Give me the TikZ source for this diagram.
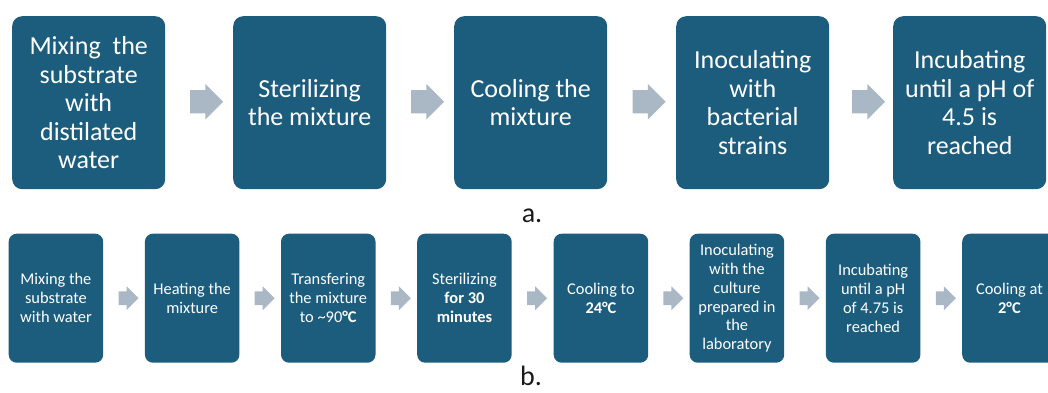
\documentclass[tikz,border=0pt]{standalone}
\usepackage{fontspec}
\setmainfont{Carlito}
\usetikzlibrary{shapes.arrows,calc}
\definecolor{boxc}{HTML}{1C5D7E}
\definecolor{arrc}{HTML}{AAB8C6}
\definecolor{labc}{HTML}{1A1A1A}
\begin{document}
\begin{tikzpicture}[x=1pt,y=-1pt,
  topbox/.style={rectangle, rounded corners=10pt, fill=boxc, text=white,
    minimum width=153pt, minimum height=173pt, align=center, inner sep=0pt,
    anchor=north west, font=\fontsize{26}{28.5}\selectfont},
  botbox/.style={rectangle, rounded corners=8pt, fill=boxc, text=white,
    minimum width=94.5pt, minimum height=129pt, align=center, inner sep=0pt,
    anchor=north west, font=\fontsize{16.4}{18.9}\selectfont},
  toparrow/.style={single arrow, fill=arrc, draw=none, inner xsep=0pt, inner ysep=11.5pt,
    minimum height=33pt, single arrow head extend=6pt},
  botarrow/.style={single arrow, fill=arrc, draw=none, inner xsep=0pt, inner ysep=6.75pt,
    minimum height=20pt, single arrow head extend=5pt},
  lab/.style={text=labc, anchor=base, font=\fontsize{28}{30}\selectfont}
]
\useasboundingbox (0,0) rectangle (1048,392);
\clip (0,0) rectangle (1048,392);
% top row
\node[topbox] (t1) at (12,16) {Mixing\ \ the\\substrate\\with\\distilated\\water};
\node[topbox] (t2) at (233,16) {Sterilizing\\the mixture};
\node[topbox] (t3) at (454,16) {Cooling the\\mixture};
\node[topbox] (t4) at (676,16) {Inoculating\\with\\bacterial\\strains};
\node[topbox] (t5) at (893,16) {Incubating\\until a pH of\\4.5 is\\reached};
\foreach \a/\b in {t1/t2,t2/t3,t3/t4,t4/t5}
  \node[toparrow] (ar\a) at ($(\a.east)!0.5!(\b.west)+(1.5,-1)$) {};
\node[lab] (la) at (532,222) {a.};
% bottom row
\node[botbox] (b1) at (8.5,233.5) {Mixing the\\substrate\\with water};
\node[botbox] (b2) at (144.7,233.5) {Heating the\\mixture};
\node[botbox] (b3) at (280.8,233.5) {Transfering\\the mixture\\to \textasciitilde90\textbf{°C}};
\node[botbox] (b4) at (417,233.5) {Sterilizing\\\textbf{for 30}\\\textbf{minutes}};
\node[botbox] (b5) at (553.5,233.5) {Cooling to\\\textbf{24°C}};
\node[botbox] (b6) at (689.5,233.5) {Inoculating\\with the\\culture\\prepared in\\the\\laboratory};
\node[botbox] (b7) at (825.7,233.5) {Incubating\\until a pH\\of 4.75 is\\reached};
\node[botbox] (b8) at (962,233.5) {Cooling at\\\textbf{2°C}};
\foreach \a/\b in {b1/b2,b2/b3,b3/b4,b4/b5,b5/b6,b6/b7,b7/b8}
  \node[botarrow] (ar\a) at ($(\a.east)!0.5!(\b.west)+(1,0)$) {};
\node[lab] (lb) at (531,385) {b.};
\end{tikzpicture}
\end{document}
